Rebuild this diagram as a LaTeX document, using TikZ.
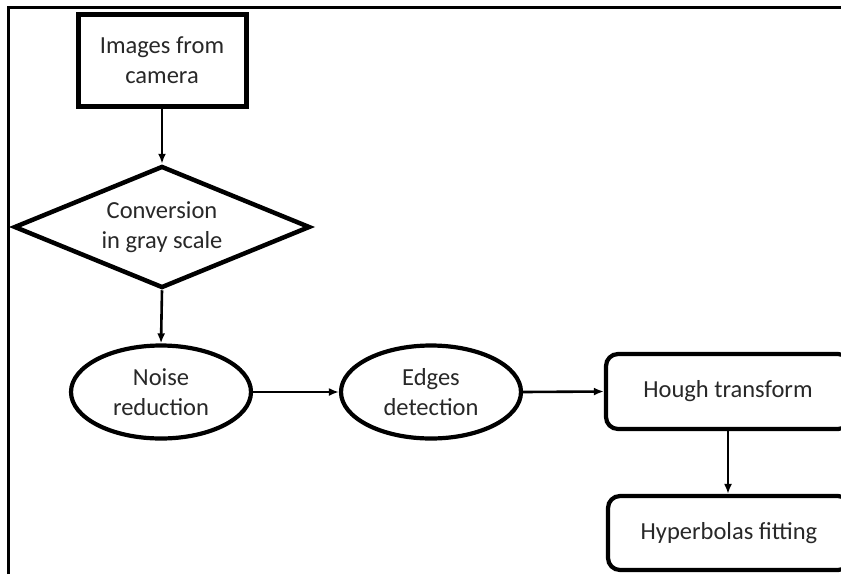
\documentclass[tikz,border=0pt]{standalone}
\usepackage{fontspec}
\setmainfont{Carlito}
\usetikzlibrary{shapes.geometric,arrows.meta}
\definecolor{txt}{RGB}{40,40,40}
\tikzset{
  every node/.style={font=\fontsize{24.5}{30}\selectfont, text=txt, align=center, inner sep=0pt},
  boxA/.style={draw=black, line width=5pt, rectangle, minimum width=168pt, minimum height=92pt},
  diam/.style={draw=black, line width=4.5pt, diamond, shape aspect=2.43, minimum width=296pt, minimum height=122pt},
  ell/.style={draw=black, line width=4.2pt, ellipse, minimum width=180pt, minimum height=93pt},
  rbox/.style={draw=black, line width=4.2pt, rectangle, rounded corners=12pt, minimum width=244pt, minimum height=75pt},
  conn/.style={line width=2.6pt, -{Latex[length=10pt,width=8pt]}},
  frameline/.style={line width=3pt, black}
}
\begin{document}
\begin{tikzpicture}[x=1pt,y=-1pt]
\useasboundingbox (0,0) rectangle (841,574);
\clip (0,0) rectangle (841,574);
\fill[white] (0,0) rectangle (841,574);
\draw[frameline] (8,574) -- (8,7) -- (845,7);
\node[boxA] (img) at (162,60) {Images from\\camera};
\node[diam] (conv) at (162,227) {Conversion\\in gray scale};
\node[ell] (noise) at (161,392) {Noise\\reduction};
\node[ell] (edge) at (431,392) {Edges\\detection};
\node[rbox] (hough) at (728,391.5) {Hough transform};
\node[rbox, minimum width=242pt, minimum height=74pt] (hyp) at (729,533) {Hyperbolas fitting};
\draw[conn] (img.south) -- (conv.north);
\draw[conn] (conv.south) -- (noise.north);
\draw[conn] (noise.east) -- (edge.west);
\draw[conn] (edge.east) -- (hough.west);
\draw[conn] (hough.south) -- (hough.south |- hyp.north);
\end{tikzpicture}
\end{document}
